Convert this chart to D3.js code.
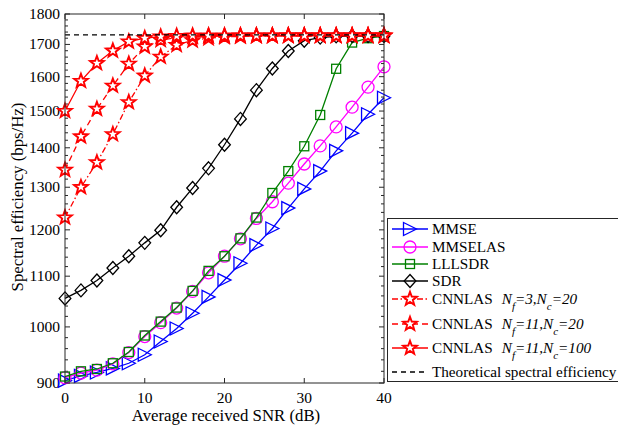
<!DOCTYPE html>
<html>
<head>
<meta charset="utf-8">
<script src="https://cdn.jsdelivr.net/npm/d3@7"></script>
<style>
  html, body { margin: 0; padding: 0; background: #fff; }
  svg { display: block; }
  text { font-family: "Liberation Serif", "Times New Roman", serif; fill: #000; }
</style>
</head>
<body>
<svg id="chart" width="618" height="426"></svg>
<script>
// ---------------- DATA ----------------
const snr = [0, 2, 4, 6, 8, 10, 12, 14, 16, 18, 20, 22, 24, 26, 28, 30, 32, 34, 36, 38, 40];
const mmse     = [904, 912, 918, 925, 934, 949, 973, 997, 1026, 1058, 1092, 1127, 1166, 1203, 1250, 1296, 1340, 1392, 1439, 1491, 1538];
const mmselas  = [909, 917, 922, 933, 953, 982, 1008, 1036, 1069, 1107, 1142, 1180, 1226, 1265, 1310, 1358, 1405, 1456, 1511, 1569, 1630];
const lllsdr   = [911, 920, 924, 934, 954, 984, 1010, 1037, 1070, 1111, 1142, 1181, 1228, 1286, 1340, 1404, 1489, 1624, 1706, 1720, 1727];
const sdr      = [1055, 1071, 1091, 1117, 1142, 1171, 1199, 1252, 1298, 1347, 1408, 1478, 1560, 1625, 1679, 1712, 1722, 1726, 1727, 1727, 1727];
const cnn3_20  = [1228, 1300, 1362, 1436, 1525, 1603, 1661, 1698, 1713, 1720, 1724, 1726, 1727, 1727, 1728, 1728, 1728, 1728, 1728, 1728, 1728];
const cnn11_20 = [1343, 1430, 1506, 1573, 1639, 1693, 1714, 1722, 1725, 1727, 1727, 1728, 1728, 1728, 1728, 1728, 1728, 1728, 1728, 1728, 1728];
const cnn11_100= [1500, 1587, 1641, 1680, 1709, 1720, 1725, 1727, 1728, 1728, 1728, 1728, 1728, 1728, 1728, 1728, 1728, 1728, 1728, 1728, 1728];
const theoreticalSE = 1731;

const xTicks = [0, 10, 20, 30, 40];
const yTicks = [900, 1000, 1100, 1200, 1300, 1400, 1500, 1600, 1700, 1800];
const yMinorTicks = [920, 940, 960, 980, 1020, 1040, 1060, 1080, 1120, 1140, 1160, 1180, 1220, 1240, 1260, 1280,
  1320, 1340, 1360, 1380, 1420, 1440, 1460, 1480, 1520, 1540, 1560, 1580, 1620, 1640, 1660, 1680, 1720, 1740, 1760, 1780];

const xLabel = "Average received SNR (dB)";
const yLabel = "Spectral efficiency (bps/Hz)";

// ---------------- LAYOUT ----------------
const svg = d3.select("#chart");
const L = 65, R = 384, T = 14, B = 383;
const x = d3.scaleLinear().domain([0, 40]).range([L, R]);
const y = d3.scaleLog().domain([900, 1800]).range([B, T]);

const axisColor = "#262626";

// ---------------- SERIES SPEC ----------------
const series = [
  { name: "MMSE",    values: mmse,     color: "#0000ff", dash: null,            marker: "triR" },
  { name: "MMSELAS", values: mmselas,  color: "#ff00ff", dash: null,            marker: "circle" },
  { name: "LLLSDR",  values: lllsdr,   color: "#008000", dash: null,            marker: "square" },
  { name: "SDR",     values: sdr,      color: "#000000", dash: null,            marker: "diamond" },
  { name: "CNNLAS",  sub: ["3", "20"],  values: cnn3_20,  color: "#ff0000", dash: "6,2.5,1.5,2.5", marker: "star" },
  { name: "CNNLAS",  sub: ["11", "20"], values: cnn11_20, color: "#ff0000", dash: "6,4",          marker: "star" },
  { name: "CNNLAS",  sub: ["11", "100"],values: cnn11_100,color: "#ff0000", dash: null,           marker: "star" }
];

function drawMarker(g, type, cx, cy, color) {
  if (type === "circle") {
    g.append("circle").attr("cx", cx).attr("cy", cy).attr("r", 6)
      .attr("fill", "none").attr("stroke", color).attr("stroke-width", 1.3);
  } else if (type === "square") {
    g.append("rect").attr("x", cx - 4.5).attr("y", cy - 4.5).attr("width", 9).attr("height", 9)
      .attr("fill", "none").attr("stroke", color).attr("stroke-width", 1.3);
  } else if (type === "diamond") {
    const r = 6.5;
    g.append("path").attr("d", `M${cx},${cy - r}L${cx + r * 0.9},${cy}L${cx},${cy + r}L${cx - r * 0.9},${cy}Z`)
      .attr("fill", "none").attr("stroke", color).attr("stroke-width", 1.3);
  } else if (type === "triR") {
    const r = 6.5;
    g.append("path").attr("d", `M${cx - r},${cy - r}L${cx + r},${cy}L${cx - r},${cy + r}Z`)
      .attr("fill", "none").attr("stroke", color).attr("stroke-width", 1.3);
  } else if (type === "star") {
    const Ro = 7.2, Ri = 3.0;
    let d = "";
    for (let i = 0; i < 10; i++) {
      const a = -Math.PI / 2 + i * Math.PI / 5;
      const rr = i % 2 === 0 ? Ro : Ri;
      d += (i === 0 ? "M" : "L") + (cx + rr * Math.cos(a)).toFixed(2) + "," + (cy + rr * Math.sin(a)).toFixed(2);
    }
    d += "Z";
    g.append("path").attr("d", d).attr("fill", "#fff").attr("stroke", color)
      .attr("stroke-width", 1.9).attr("stroke-linejoin", "miter");
  }
}

// ---------------- AXES BOX & TICKS ----------------
const axG = svg.append("g");
axG.append("rect").attr("x", L).attr("y", T).attr("width", R - L).attr("height", B - T)
  .attr("fill", "#fff").attr("stroke", "none");

xTicks.forEach(t => {
  const xx = x(t);
  axG.append("line").attr("x1", xx).attr("x2", xx).attr("y1", B).attr("y2", B - 5).attr("stroke", axisColor);
  axG.append("line").attr("x1", xx).attr("x2", xx).attr("y1", T).attr("y2", T + 5).attr("stroke", axisColor);
  axG.append("text").attr("x", xx).attr("y", 403).attr("text-anchor", "middle")
    .attr("font-size", 15.5).text(t);
});
yTicks.forEach(t => {
  const yy = y(t);
  axG.append("line").attr("x1", L).attr("x2", L + 5).attr("y1", yy).attr("y2", yy).attr("stroke", axisColor);
  axG.append("line").attr("x1", R).attr("x2", R - 5).attr("y1", yy).attr("y2", yy).attr("stroke", axisColor);
  axG.append("text").attr("x", 60).attr("y", yy + 5).attr("text-anchor", "end")
    .attr("font-size", 15.5).text(t);
});
yMinorTicks.forEach(t => {
  const yy = y(t);
  axG.append("line").attr("x1", L).attr("x2", L + 3).attr("y1", yy).attr("y2", yy).attr("stroke", axisColor);
  axG.append("line").attr("x1", R).attr("x2", R - 3).attr("y1", yy).attr("y2", yy).attr("stroke", axisColor);
});

// ---------------- SERIES ----------------
const plotG = svg.append("g");
const lineGen = vals => d3.line().x((d, i) => x(snr[i])).y(d => y(d))(vals);
series.forEach(s => {
  const g = plotG.append("g");
  g.append("path").attr("d", lineGen(s.values)).attr("fill", "none")
    .attr("stroke", s.color).attr("stroke-width", 1.3)
    .attr("stroke-dasharray", s.dash);
  s.values.forEach((v, i) => drawMarker(g, s.marker, x(snr[i]), y(v), s.color));
});
plotG.append("line").attr("x1", x(0)).attr("x2", x(40))
  .attr("y1", y(theoreticalSE)).attr("y2", y(theoreticalSE))
  .attr("stroke", "#000").attr("stroke-width", 1.3).attr("stroke-dasharray", "5,4");

svg.append("rect").attr("x", L).attr("y", T).attr("width", R - L).attr("height", B - T)
  .attr("fill", "none").attr("stroke", axisColor).attr("stroke-width", 1);

// axis labels
svg.append("text").attr("x", 226).attr("y", 421).attr("text-anchor", "middle")
  .attr("font-size", 16.8).text(xLabel);
svg.append("text").attr("transform", "translate(23,197) rotate(-90)").attr("text-anchor", "middle")
  .attr("font-size", 16.8).text(yLabel);

// ---------------- LEGEND ----------------
const legG = svg.append("g");
legG.append("rect").attr("x", 387.5).attr("y", 218.5).attr("width", 240).attr("height", 163)
  .attr("fill", "#fff").attr("stroke", axisColor).attr("stroke-width", 1);
const rowY = [229, 247, 264, 281, 299, 324, 348, 372];
const legEntries = series.concat([{ name: "Theoretical spectral efficiency", color: "#000", dash: "5,4", marker: null }]);
legEntries.forEach((s, i) => {
  const yy = rowY[i];
  legG.append("line").attr("x1", 392).attr("x2", 428).attr("y1", yy).attr("y2", yy)
    .attr("stroke", s.color).attr("stroke-width", 1.3).attr("stroke-dasharray", s.dash);
  if (s.marker) drawMarker(legG, s.marker, 410, yy, s.color);
  const t = legG.append("text").attr("x", 432).attr("y", yy + 5).attr("font-size", 15.2);
  t.append("tspan").text(s.name);
  if (s.sub) {
    t.append("tspan").attr("dx", 9).attr("font-style", "italic").text("N");
    t.append("tspan").attr("font-style", "italic").attr("font-size", 11).attr("dy", 6).text("f");
    t.append("tspan").attr("font-style", "italic").attr("dy", -6).text("=" + s.sub[0] + ",N");
    t.append("tspan").attr("font-style", "italic").attr("font-size", 11).attr("dy", 6).text("c");
    t.append("tspan").attr("font-style", "italic").attr("dy", -6).text("=" + s.sub[1]);
  }
});
</script>
</body>
</html>
